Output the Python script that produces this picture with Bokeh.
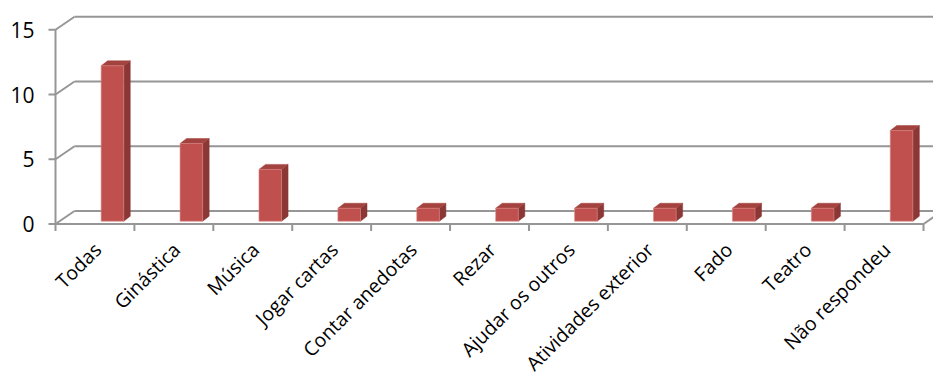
from math import pi

from bokeh.core.properties import value
from bokeh.embed import file_html
from bokeh.models import Range1d
from bokeh.plotting import figure
from bokeh.resources import INLINE

# --- data -----------------------------------------------------------------
categories = [
    "Todas", "Ginástica", "Música", "Jogar cartas", "Contar anedotas", "Rezar",
    "Ajudar os outros", "Atividades exterior", "Fado", "Teatro", "Não respondeu",
]
counts = [12, 6, 4, 1, 1, 1, 1, 1, 1, 1, 7]
y_ticks = [0, 5, 10, 15]

# --- geometry (pixels of the front plane) ----------------------------------
W, H = 933, 379
LEFT_PX, BASE_PX = 55, 223.5     # front-left corner of the floor
SLOT_PX = 78.91                  # width of one category slot
UNIT_PX = 12.95                  # pixels per count

n = len(categories)
xs0 = -0.5 - LEFT_PX / SLOT_PX
xs1 = xs0 + W / SLOT_PX
ys1 = BASE_PX / UNIT_PX
ys0 = ys1 - H / UNIT_PX


def px_x(d):
    return d / SLOT_PX


def px_y(d):
    return d / UNIT_PX


DX, DY = px_x(19), px_y(13)          # depth of the back wall
SHIFT, BW = px_x(6.2), px_x(22.6)    # bar front face offset / width
LIFT = px_y(2.8)                     # bars stand slightly behind the front edge
BDX, BDY = px_x(6.5), px_y(5)        # bar depth

GRID = "#969696"
FRONT, SIDE, TOP = "#C0504D", "#8A3735", "#A4423F"
FONT = value("Open Sans")

p = figure(
    width=W, height=H,
    x_range=Range1d(xs0, xs1), y_range=Range1d(ys0, ys1),
    output_backend="svg", toolbar_location=None,
    x_axis_location=None, y_axis_location=None, min_border=0,
)
p.outline_line_color = None
p.grid.grid_line_color = None
p.background_fill_color = "white"
p.border_fill_color = "white"

left = -0.5
right = n - 0.5

# back-wall gridlines and the side-wall diagonals
p.segment(x0=[left + DX] * len(y_ticks), y0=[v + DY for v in y_ticks],
          x1=[xs1] * len(y_ticks), y1=[v + DY for v in y_ticks],
          line_color=GRID, line_width=2)
p.segment(x0=[left] * len(y_ticks), y0=y_ticks,
          x1=[left + DX] * len(y_ticks), y1=[v + DY for v in y_ticks],
          line_color=GRID, line_width=2)

# front axes
p.segment(x0=[left, left, right], y0=[0, 0, 0],
          x1=[left, right, right + DX], y1=[max(y_ticks), 0, DY],
          line_color=GRID, line_width=2)
# value ticks
p.segment(x0=[left - px_x(7)] * len(y_ticks), y0=y_ticks,
          x1=[left] * len(y_ticks), y1=y_ticks,
          line_color=GRID, line_width=2)
# category boundary ticks
bounds = [k - 0.5 for k in range(n + 1)]
p.segment(x0=bounds, y0=[0] * len(bounds), x1=bounds, y1=[-px_y(7)] * len(bounds),
          line_color=GRID, line_width=2)

# 3-D columns
fl = [i + SHIFT for i in range(n)]
fr = [x + BW for x in fl]
bottoms = [LIFT] * n
tops = [LIFT + c for c in counts]

side_xs = [[r, r + BDX, r + BDX, r] for r in fr]
side_ys = [[b, b + BDY, t + BDY, t] for b, t in zip(bottoms, tops)]
top_xs = [[l, r, r + BDX, l + BDX] for l, r in zip(fl, fr)]
top_ys = [[t, t, t + BDY, t + BDY] for t in tops]

p.patches(side_xs, side_ys, fill_color=SIDE, line_color=SIDE, line_width=0.5)
p.patches(top_xs, top_ys, fill_color=TOP, line_color=TOP, line_width=0.5)
p.quad(left=fl, right=fr, bottom=bottoms, top=tops,
       fill_color=FRONT, line_color="#D98785", line_width=0.6)

# category labels, rotated and ending under each slot
p.text(x=[i + px_x(2.5) for i in range(n)], y=[-px_y(22)] * n, text=categories,
       angle=pi / 4, text_align="right", text_baseline="alphabetic",
       text_font=FONT, text_font_size=value("19.5px"), text_color="#000000")

# value labels
p.text(x=[left - px_x(21)] * len(y_ticks), y=y_ticks, text=[str(v) for v in y_ticks],
       text_align="right", text_baseline="middle",
       text_font=FONT, text_font_size=value("21px"), text_color="#000000")

open("out.html", "w").write(file_html(p, INLINE))
